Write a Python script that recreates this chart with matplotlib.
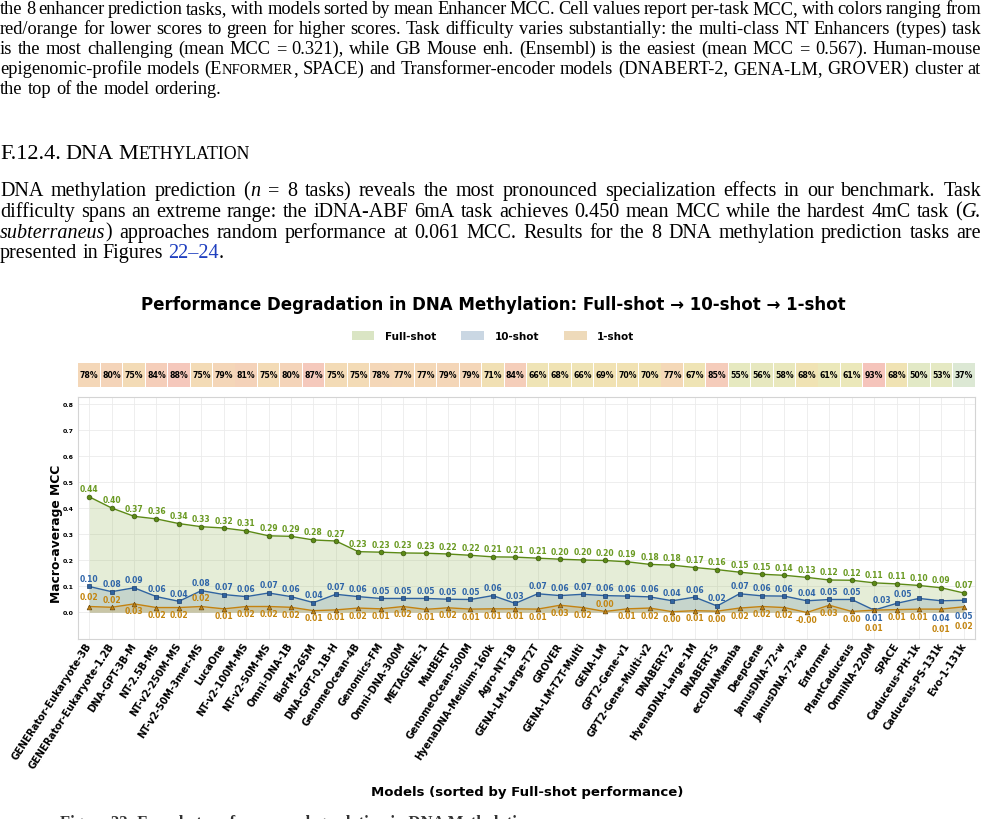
"""Few-shot degradation plot for DNA methylation, with the surrounding page text."""
import matplotlib
matplotlib.use("Agg")
import matplotlib.pyplot as plt
from matplotlib.colors import LinearSegmentedColormap
from matplotlib.patches import Patch
import numpy as np

W, H = 986, 820

models = [
    "GENERator-Eukaryote-3B", "GENERator-Eukaryote-1.2B", "DNA-GPT-3B-M", "NT-2.5B-MS",
    "NT-v2-250M-MS", "NT-v2-50M-3mer-MS", "LucaOne", "NT-v2-100M-MS", "NT-v2-50M-MS",
    "Omni-DNA-1B", "BioFM-265M", "DNA-GPT-0.1B-H", "GenomeOcean-4B", "Genomics-FM",
    "Omni-DNA-300M", "METAGENE-1", "MutBERT", "GenomeOcean-500M", "HyenaDNA-Medium-160k",
    "Agro-NT-1B", "GENA-LM-Large-T2T", "GROVER", "GENA-LM-T2T-Multi", "GENA-LM",
    "GPT2-Gene-v1", "GPT2-Gene-Multi-v2", "DNABERT-2", "HyenaDNA-Large-1M", "DNABERT-S",
    "eccDNAMamba", "DeepGene", "JanusDNA-72-w", "JanusDNA-72-wo", "Enformer",
    "PlantCaduceus", "OmniNA-220M", "SPACE", "Caduceus-PH-1k", "Caduceus-PS-131k",
    "Evo-1-131k",
]
full_shot = [
    0.444, 0.401, 0.369, 0.359, 0.341, 0.329, 0.324, 0.313, 0.294, 0.292,
    0.278, 0.274, 0.233, 0.231, 0.228, 0.227, 0.224, 0.219, 0.213, 0.212,
    0.208, 0.204, 0.201, 0.199, 0.194, 0.184, 0.181, 0.172, 0.164, 0.154,
    0.146, 0.142, 0.134, 0.124, 0.123, 0.113, 0.109, 0.103, 0.094, 0.074,
]
ten_shot = [
    0.099, 0.079, 0.094, 0.060, 0.042, 0.083, 0.068, 0.060, 0.074, 0.060,
    0.037, 0.069, 0.060, 0.053, 0.053, 0.053, 0.050, 0.049, 0.064, 0.034,
    0.071, 0.064, 0.069, 0.064, 0.062, 0.059, 0.044, 0.058, 0.024, 0.071,
    0.063, 0.062, 0.044, 0.049, 0.049, 0.008, 0.034, 0.053, 0.044, 0.046,
]
one_shot = [
    0.022, 0.019, 0.032, 0.018, 0.018, 0.022, 0.013, 0.022, 0.022, 0.019,
    0.006, 0.009, 0.016, 0.013, 0.022, 0.011, 0.017, 0.012, 0.013, 0.013,
    0.012, 0.027, 0.018, 0.003, 0.013, 0.016, 0.002, 0.006, 0.004, 0.016,
    0.022, 0.018, -0.001, 0.027, 0.003, 0.008, 0.010, 0.012, 0.012, 0.021,
]
# full-shot -> 10-shot drop, as printed in the strip above the plot
degradation_pct = [
    78, 80, 75, 84, 88, 75, 79, 81, 75, 80, 87, 75, 75, 78, 77, 77, 79, 79, 71, 84,
    66, 68, 66, 69, 70, 70, 77, 67, 85, 55, 56, 58, 68, 61, 61, 93, 68, 50, 53, 37,
]
yticks = [0.0, 0.1, 0.2, 0.3, 0.4, 0.5, 0.6, 0.7, 0.8]

SERIES = {
    "full": dict(label="Full-shot", line="#5c8a16", edge="#3b5a0c", text="#6a9a22",
                 fill="#8db04a", alpha=0.22, marker="o"),
    "ten": dict(label="10-shot", line="#2f63a0", edge="#1b3f6e", text="#2f65a8",
                fill="#5b83a8", alpha=0.22, marker="s"),
    "one": dict(label="1-shot", line="#c4820f", edge="#6b4a10", text="#c4850f",
                fill="#d4a04a", alpha=0.28, marker="^"),
}
# value-label offsets in pixels; everything not listed uses the default
LABEL_DEFAULT = {"full": (0, 8), "ten": (0, 8), "one": (0, -7)}
LABEL_OVERRIDE = {
    ("one", 0): (0, 10), ("one", 1): (0, 8), ("one", 5): (0, 9), ("one", 23): (0, 8),
    ("ten", 35): (0, -7), ("ten", 38): (0, -17), ("ten", 39): (0, -15),
    ("one", 35): (0, -17), ("one", 38): (0, -19), ("one", 39): (0, -19),
    ("ten", 36): (-15, 4), ("ten", 37): (-16, 5),
}
# pale green -> yellow -> salmon, for the degradation strip
STRIP_CMAP = LinearSegmentedColormap.from_list("strip", [
    (0.00, "#dbe8d6"), (0.25, "#e2e9c6"), (0.42, "#ebe8ba"), (0.58, "#f1e2b3"),
    (0.72, "#f4d7b8"), (0.88, "#f5c8bc"), (1.00, "#f5c3ba"),
])
STRIP_RANGE = (35, 95)

SERIF = "Liberation Serif"
body = dict(family=SERIF, size=13.2, color="black")
smallcap = dict(body, size=10.6)
head = dict(body, size=16)
head_sc = dict(body, size=12.8)
body2 = dict(body, size=14.5)
ital2 = dict(body2, style="italic")
link2 = dict(body2, color="#1f3fbf")

para1 = [
    [("the 8 enhancer prediction tasks, with models sorted by mean Enhancer MCC. Cell values report per-task MCC, with colors ranging from", body)],
    [("red/orange for lower scores to green for higher scores. Task difficulty varies substantially: the multi-class NT Enhancers (types) task", body)],
    [("is the most challenging (mean MCC = 0.321), while GB Mouse enh. (Ensembl) is the easiest (mean MCC = 0.567). Human-mouse", body)],
    [("epigenomic-profile models (E", body), ("NFORMER", smallcap),
     (", SPACE) and Transformer-encoder models (DNABERT-2, GENA-LM, GROVER) cluster at", body)],
    [("the top of the model ordering.", body)],
]
header = [("F.12.4. DNA M", head), ("ETHYLATION", head_sc)]
para2 = [
    [("DNA methylation prediction (", body2), ("n", ital2),
     (" = 8 tasks) reveals the most pronounced specialization effects in our benchmark. Task", body2)],
    [("difficulty spans an extreme range: the iDNA-ABF 6mA task achieves 0.450 mean MCC while the hardest 4mC task (", body2), ("G.", ital2)],
    [("subterraneus", ital2), (") approaches random performance at 0.061 MCC. Results for the 8 DNA methylation prediction tasks are", body2)],
    [("presented in Figures ", body2), ("22–24", link2), (".", body2)],
]


def draw_line(fig, renderer, y, parts, justify=True, x0=0.0, x1=981.0):
    """Place one line of mixed-style text, stretching word gaps to fill x0..x1."""
    atoms = []
    gap_before = False
    for txt, props in parts:
        for i, word in enumerate(txt.split(" ")):
            if i > 0:
                gap_before = True
            if not word:
                continue
            t = fig.text(0, 1 - y / H, word, ha="left", va="baseline", **props)
            atoms.append([t, t.get_window_extent(renderer).width, gap_before])
            gap_before = False
    n_gaps = sum(1 for a in atoms if a[2])
    total = sum(a[1] for a in atoms)
    gap = (x1 - x0 - total) / n_gaps if (justify and n_gaps) else 4.9
    x = x0
    for t, w, g in atoms:
        if g:
            x += gap
        t.set_x(x / W)
        x += w


def draw_page_text(fig):
    renderer = fig.canvas.get_renderer()
    for i, parts in enumerate(para1):
        draw_line(fig, renderer, 14 + 20 * i, parts, justify=i < len(para1) - 1)
    draw_line(fig, renderer, 159, header, justify=False)
    for i, parts in enumerate(para2):
        draw_line(fig, renderer, 196 + 20.8 * i, parts, justify=i < len(para2) - 1)
    # caption of the figure, cut off by the page crop
    fig.text(60 / W, 1 - 815 / H, "Figure 22: Few-shot performance degradation in DNA Methylation.",
             ha="left", va="top", family=SERIF, size=12, weight="bold", color="#333333")


def plot_degradation(fig):
    x = np.arange(len(models))
    series = {"full": full_shot, "ten": ten_shot, "one": one_shot}

    ax = fig.add_axes([78 / W, 1 - 640 / H, 897 / W, 242 / H])
    for key, vals in series.items():
        st = SERIES[key]
        ax.fill_between(x, 0, vals, color=st["fill"], alpha=st["alpha"], lw=0, zorder=1)
    for key, vals in series.items():
        st = SERIES[key]
        ax.plot(x, vals, color=st["line"], lw=1.0, marker=st["marker"], ms=3.4,
                mfc=st["line"], mec=st["edge"], mew=0.5, zorder=3)
        for i, v in enumerate(vals):
            off = LABEL_OVERRIDE.get((key, i), LABEL_DEFAULT[key])
            ax.annotate("{0:.2f}".format(v), (i, v), xytext=off, textcoords="offset pixels",
                        ha="center", va="center", fontsize=5.5, fontweight="bold",
                        color=st["text"], zorder=4)

    ax.set_xlim(-0.5, len(models) - 0.5)
    ax.set_ylim(-0.103, 0.828)
    ax.set_yticks(yticks)
    ax.set_yticklabels(["{0:.1f}".format(t) for t in yticks], fontsize=4.5, fontweight="bold")
    ax.set_xticks(x)
    ax.set_xticklabels(models, rotation=57, ha="right", va="center", rotation_mode="anchor",
                       fontsize=7, fontweight="bold")
    ax.tick_params(length=0, pad=3)
    ax.grid(True, color="#ebebeb", lw=0.6)
    ax.set_axisbelow(True)
    for sp in ax.spines.values():
        sp.set_color("#d4d4d4")
        sp.set_linewidth(0.8)

    fig.text(57 / W, 1 - 534 / H, "Macro-average MCC", rotation=90, ha="center", va="center",
             fontsize=8.8, fontweight="bold")
    fig.text(527 / W, 1 - 793 / H, "Models (sorted by Full-shot performance)", ha="center",
             va="center", fontsize=9.5, fontweight="bold")

    # strip of degradation percentages above the plot
    strip = fig.add_axes([78 / W, 1 - 388 / H, 897 / W, 24 / H])
    norm = plt.Normalize(*STRIP_RANGE)
    strip.bar(x, 1, width=0.96, color=[STRIP_CMAP(norm(p)) for p in degradation_pct],
              edgecolor="none")
    for i, p in enumerate(degradation_pct):
        strip.text(i, 0.5, "{0}%".format(p), ha="center", va="center", fontsize=5.6,
                   fontweight="bold", color="black")
    strip.set_xlim(-0.5, len(models) - 0.5)
    strip.set_ylim(0, 1)
    strip.axis("off")

    fig.text(0.5, 1 - 305 / H,
             "Performance Degradation in DNA Methylation: Full-shot → 10-shot → 1-shot",
             ha="center", va="center", fontsize=12, fontweight="bold")
    handles = [Patch(facecolor=SERIES[k]["fill"], alpha=SERIES[k]["alpha"] + 0.1,
                     label=SERIES[k]["label"]) for k in ("full", "ten", "one")]
    fig.legend(handles=handles, loc="center", bbox_to_anchor=(0.5, 1 - 337 / H), ncol=3,
               frameon=False, prop=dict(size=7.5, weight="bold"), handlelength=2.2,
               handleheight=0.9, columnspacing=2.4, handletextpad=1.0)


fig = plt.figure(figsize=(W / 100, H / 100), dpi=100)
draw_page_text(fig)
plot_degradation(fig)
fig.savefig("out.png", dpi=100)
plt.close(fig)
